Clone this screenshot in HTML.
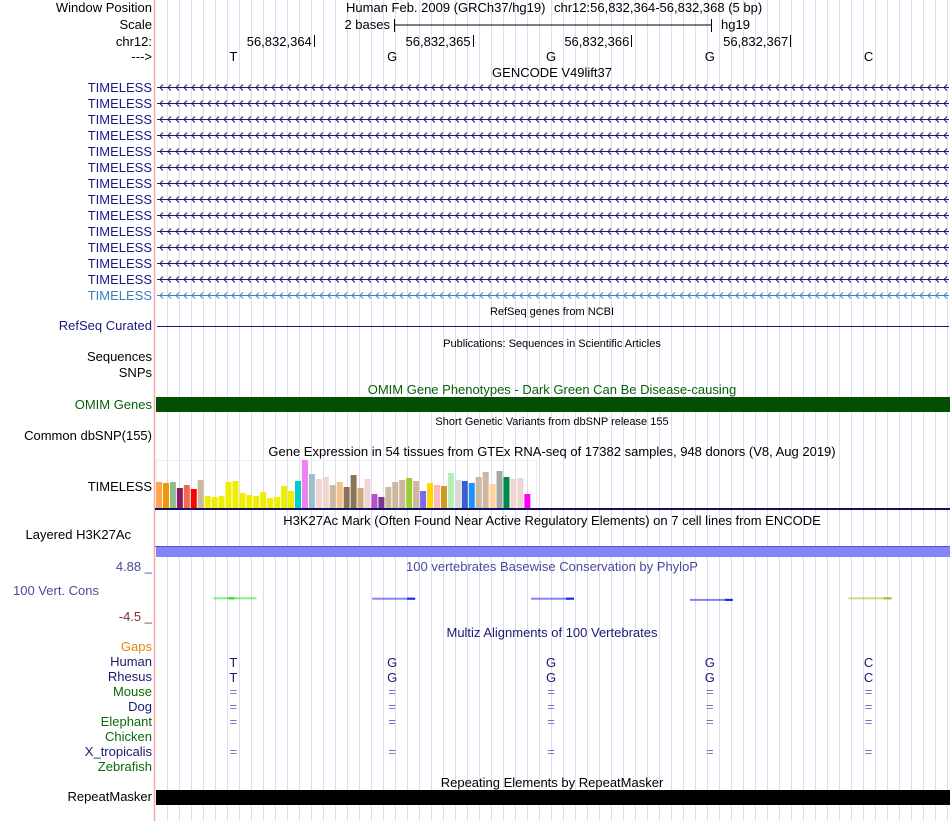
<!DOCTYPE html>
<html><head><meta charset="utf-8">
<style>
html,body{margin:0;padding:0;background:#fff;}
svg{display:block;font-family:"Liberation Sans",sans-serif;}
</style></head>
<body>
<svg id="main" width="950" height="821" viewBox="0 0 950 821">
<g id="grid"></g>
<line x1="154.5" y1="0" x2="154.5" y2="821" stroke="#f4a8a8" stroke-width="1.5"/>

<g font-size="13" text-anchor="end">
<text x="152" y="12" fill="#000">Window Position</text>
<text x="152" y="29" fill="#000">Scale</text>
<text x="152" y="46" fill="#000">chr12:</text>
<text x="152" y="61" fill="#000">---&gt;</text>
<text x="152" y="330" fill="#1a1a80">RefSeq Curated</text>
<text x="152" y="361" fill="#000">Sequences</text>
<text x="152" y="377" fill="#000">SNPs</text>
<text x="152" y="409" fill="#0b5f0b">OMIM Genes</text>
<text x="152" y="440" fill="#000">Common dbSNP(155)</text>
<text x="152" y="491" fill="#000">TIMELESS</text>
<text x="131" y="539" fill="#000">Layered H3K27Ac</text>
<text x="152" y="571" fill="#4a4aa0">4.88 _</text>
<text x="99" y="595" fill="#4a4aa0">100 Vert. Cons</text>
<text x="152" y="621" fill="#8b2a2a">-4.5 _</text>
<text x="152" y="651" fill="#e08a10">Gaps</text>
<text x="152" y="666" fill="#1a1a70">Human</text>
<text x="152" y="681" fill="#1a1a70">Rhesus</text>
<text x="152" y="696" fill="#0b6a0b">Mouse</text>
<text x="152" y="711" fill="#1a1a70">Dog</text>
<text x="152" y="726" fill="#0b6a0b">Elephant</text>
<text x="152" y="741" fill="#0b6a0b">Chicken</text>
<text x="152" y="756" fill="#1a1a70">X_tropicalis</text>
<text x="152" y="771" fill="#0b6a0b">Zebrafish</text>
<text x="152" y="801" fill="#000">RepeatMasker</text>
</g>
<g id="genelabels" font-size="13" text-anchor="end"></g>

<g font-size="13" fill="#000">
<text x="346" y="12">Human Feb. 2009 (GRCh37/hg19)</text>
<text x="554" y="12">chr12:56,832,364-56,832,368 (5 bp)</text>
<text x="390" y="29" text-anchor="end">2 bases</text>
<line x1="394" y1="25" x2="711" y2="25" stroke="#000"/>
<line x1="394.5" y1="19" x2="394.5" y2="32" stroke="#000"/>
<line x1="711.5" y1="19" x2="711.5" y2="32" stroke="#000"/>
<text x="721" y="29">hg19</text>
</g>
<g id="ruler2" font-size="13"></g>
<g id="bases" font-size="13" text-anchor="middle"></g>

<g font-size="13" text-anchor="middle">
<text x="552" y="77" fill="#000">GENCODE V49lift37</text>
<text x="552" y="315" fill="#000" font-size="11">RefSeq genes from NCBI</text>
<text x="552" y="347" fill="#000" font-size="11">Publications: Sequences in Scientific Articles</text>
<text x="552" y="394" fill="#0b5f0b">OMIM Gene Phenotypes - Dark Green Can Be Disease-causing</text>
<text x="552" y="425" fill="#000" font-size="11">Short Genetic Variants from dbSNP release 155</text>
<text x="552" y="456" fill="#000">Gene Expression in 54 tissues from GTEx RNA-seq of 17382 samples, 948 donors (V8, Aug 2019)</text>
<text x="552" y="525" fill="#000">H3K27Ac Mark (Often Found Near Active Regulatory Elements) on 7 cell lines from ENCODE</text>
<text x="552" y="571" fill="#4a4aa0">100 vertebrates Basewise Conservation by PhyloP</text>
<text x="552" y="637" fill="#1a1a70">Multiz Alignments of 100 Vertebrates</text>
<text x="552" y="787" fill="#000">Repeating Elements by RepeatMasker</text>
</g>

<line x1="157" y1="326.5" x2="949" y2="326.5" stroke="#1a1a80"/>
<rect x="156" y="397" width="794" height="15" fill="#044f04"/>
<rect x="156" y="546" width="794" height="11" fill="#8484f8"/>
<line x1="155" y1="546.5" x2="950" y2="546.5" stroke="#5050e0" stroke-width="1"/>
<rect x="156" y="790" width="794" height="15" fill="#000"/>

<g id="genes"></g>
<g id="gtex">
<rect x="156.5" y="460.5" width="380" height="49" fill="none" stroke="#eee"/>
</g>
<line x1="155" y1="509" x2="950" y2="509" stroke="#101060" stroke-width="2"/>
<g id="phylop"></g>
<g id="multiz" font-size="13" text-anchor="middle"></g>
</svg>

<script>
// GTEx chart data
const tissueValues = [27,26,27,21,24,20,29,13,12,13,27,28,16,14,13,17,11,12,23,18,28,49,35,30,32,24,27,22,34,21,30,15,12,22,27,29,31,28,18,26,24,23,36,29,28,26,32,37,25,38,32,30,31,15];
const tissueColors = ["#ffa54f","#ee9a00","#8fbc8f","#8b1c62","#ee6a50","#ff0000","#cdb79e","#eeee00","#eeee00","#eeee00","#eeee00","#eeee00","#eeee00","#eeee00","#eeee00","#eeee00","#eeee00","#eeee00","#eeee00","#eeee00","#00cdcd","#ee82ee","#9ac0cd","#eed5d2","#eed5d2","#cdb79e","#f4c28c","#8b7355","#8b7355","#cdaa7d","#eed5d2","#b452cd","#7a378b","#cdb79e","#cdb79e","#cdb79e","#9acd32","#cdb79e","#7b68ee","#ffd700","#ffb6c1","#cd9b1d","#b4eeb4","#d9d9d9","#3a5fcd","#1e90ff","#cdb79e","#cdb79e","#ffd39b","#a6a6a6","#008b45","#eed5d2","#eed5d2","#ff00ff"];
const gtexMax = 49;
const humanBases = ["T","G","G","G","C"];
const rhesusBases = ["T","G","G","G","C"];
const posLabels = ["56,832,364","56,832,365","56,832,366","56,832,367"];
const phylopColors = ["#22dd22","#2020ee","#2020ee","#2020ee","#b5b520"];
const phylopValues = [0.3,0.2,0.2,-0.1,0.3];
const transcriptCount = 14;

const NS="http://www.w3.org/2000/svg";
function mk(tag, attrs, parent){const e=document.createElementNS(NS,tag);for(const k in attrs)e.setAttribute(k,attrs[k]);parent.appendChild(e);return e;}
const X0=155, X1=949, nBases=5, bw=(X1-X0)/nBases;
function baseX(i){return X0+(i+0.5)*bw;}

const grid=document.getElementById('grid');
for(let x=167;x<950;x+=12.0){
  const l=mk('line',{x1:Math.round(x)+0.5,y1:0,x2:Math.round(x)+0.5,y2:821,stroke:'#dcdcf4'},grid);
  
  
}
const r2=document.getElementById('ruler2');
posLabels.forEach((p,i)=>{
  const tx=X0+(i+1)*bw;
  const t=mk('text',{x:tx-2,y:46,'text-anchor':'end',fill:'#000'},r2);t.textContent=p;
  
  
  const l=mk('line',{x1:Math.round(tx)+0.5,y1:35,x2:Math.round(tx)+0.5,y2:47,stroke:'#000'},r2);
  
  
});
const bases=document.getElementById('bases');
humanBases.forEach((b,i)=>{const t=mk('text',{x:baseX(i)-1,y:61,fill:'#000'},bases);t.textContent=b;
  
  });

const genes=document.getElementById('genes'), gl=document.getElementById('genelabels');
for(let k=0;k<transcriptCount;k++){
  const y=87+k*16;
  const t=mk('text',{x:152,y:y+5,fill:k===transcriptCount-1?'#3a80c0':'#1a1a80'},gl);t.textContent='TIMELESS';
  
  
  const col=k===transcriptCount-1?'#3a80c0':'#1a1a70';
  let d='M157 '+(y+0.5)+' H949';
  for(let x=160;x<948;x+=8){d+=' M'+(x+3)+' '+(y-2.5)+' L'+x+' '+(y+0.5)+' L'+(x+3)+' '+(y+3.5);}
  const p=mk('path',{d:d,stroke:col,fill:'none','stroke-width':1},genes);
  
  
}

const gtex=document.getElementById('gtex');
const gx0=156, gstep=6.95, gbase=509, gh=49;
function gy(v){return gbase-v/gtexMax*gh;}
tissueValues.forEach((v,i)=>{
  const r=mk('rect',{x:gx0+i*gstep,y:gy(v),width:6,height:gbase-gy(v),fill:tissueColors[i]},gtex);
  
  
});

const ph=document.getElementById('phylop');
function py(v){return 599 - v*4;}
phylopValues.forEach((v,i)=>{
  const cx=baseX(i);
  const r=mk('rect',{x:cx-21,y:py(v)-0.5,width:43,height:2,fill:phylopColors[i],opacity:0.55},ph);
  
  
  const r2=mk('rect',{x:i===0?cx-6:cx+14,y:py(v)-0.5,width:i===0?6:8,height:2,fill:phylopColors[i]},ph);
  
  
});

const mz=document.getElementById('multiz');
const eqRows=[692,707,722,752];
humanBases.forEach((b,i)=>{
  const cx=baseX(i)-1;
  let t=mk('text',{x:cx,y:667,fill:'#1a1a70'},mz);t.textContent=b;
  
  
  t=mk('text',{x:cx,y:682,fill:'#1a1a70'},mz);t.textContent=rhesusBases[i];
  
  
  eqRows.forEach(y=>{const e=mk('text',{x:cx,y:y+4,fill:'#7070c0'},mz);e.textContent='=';
    
    });
});
</script>
</body></html>
